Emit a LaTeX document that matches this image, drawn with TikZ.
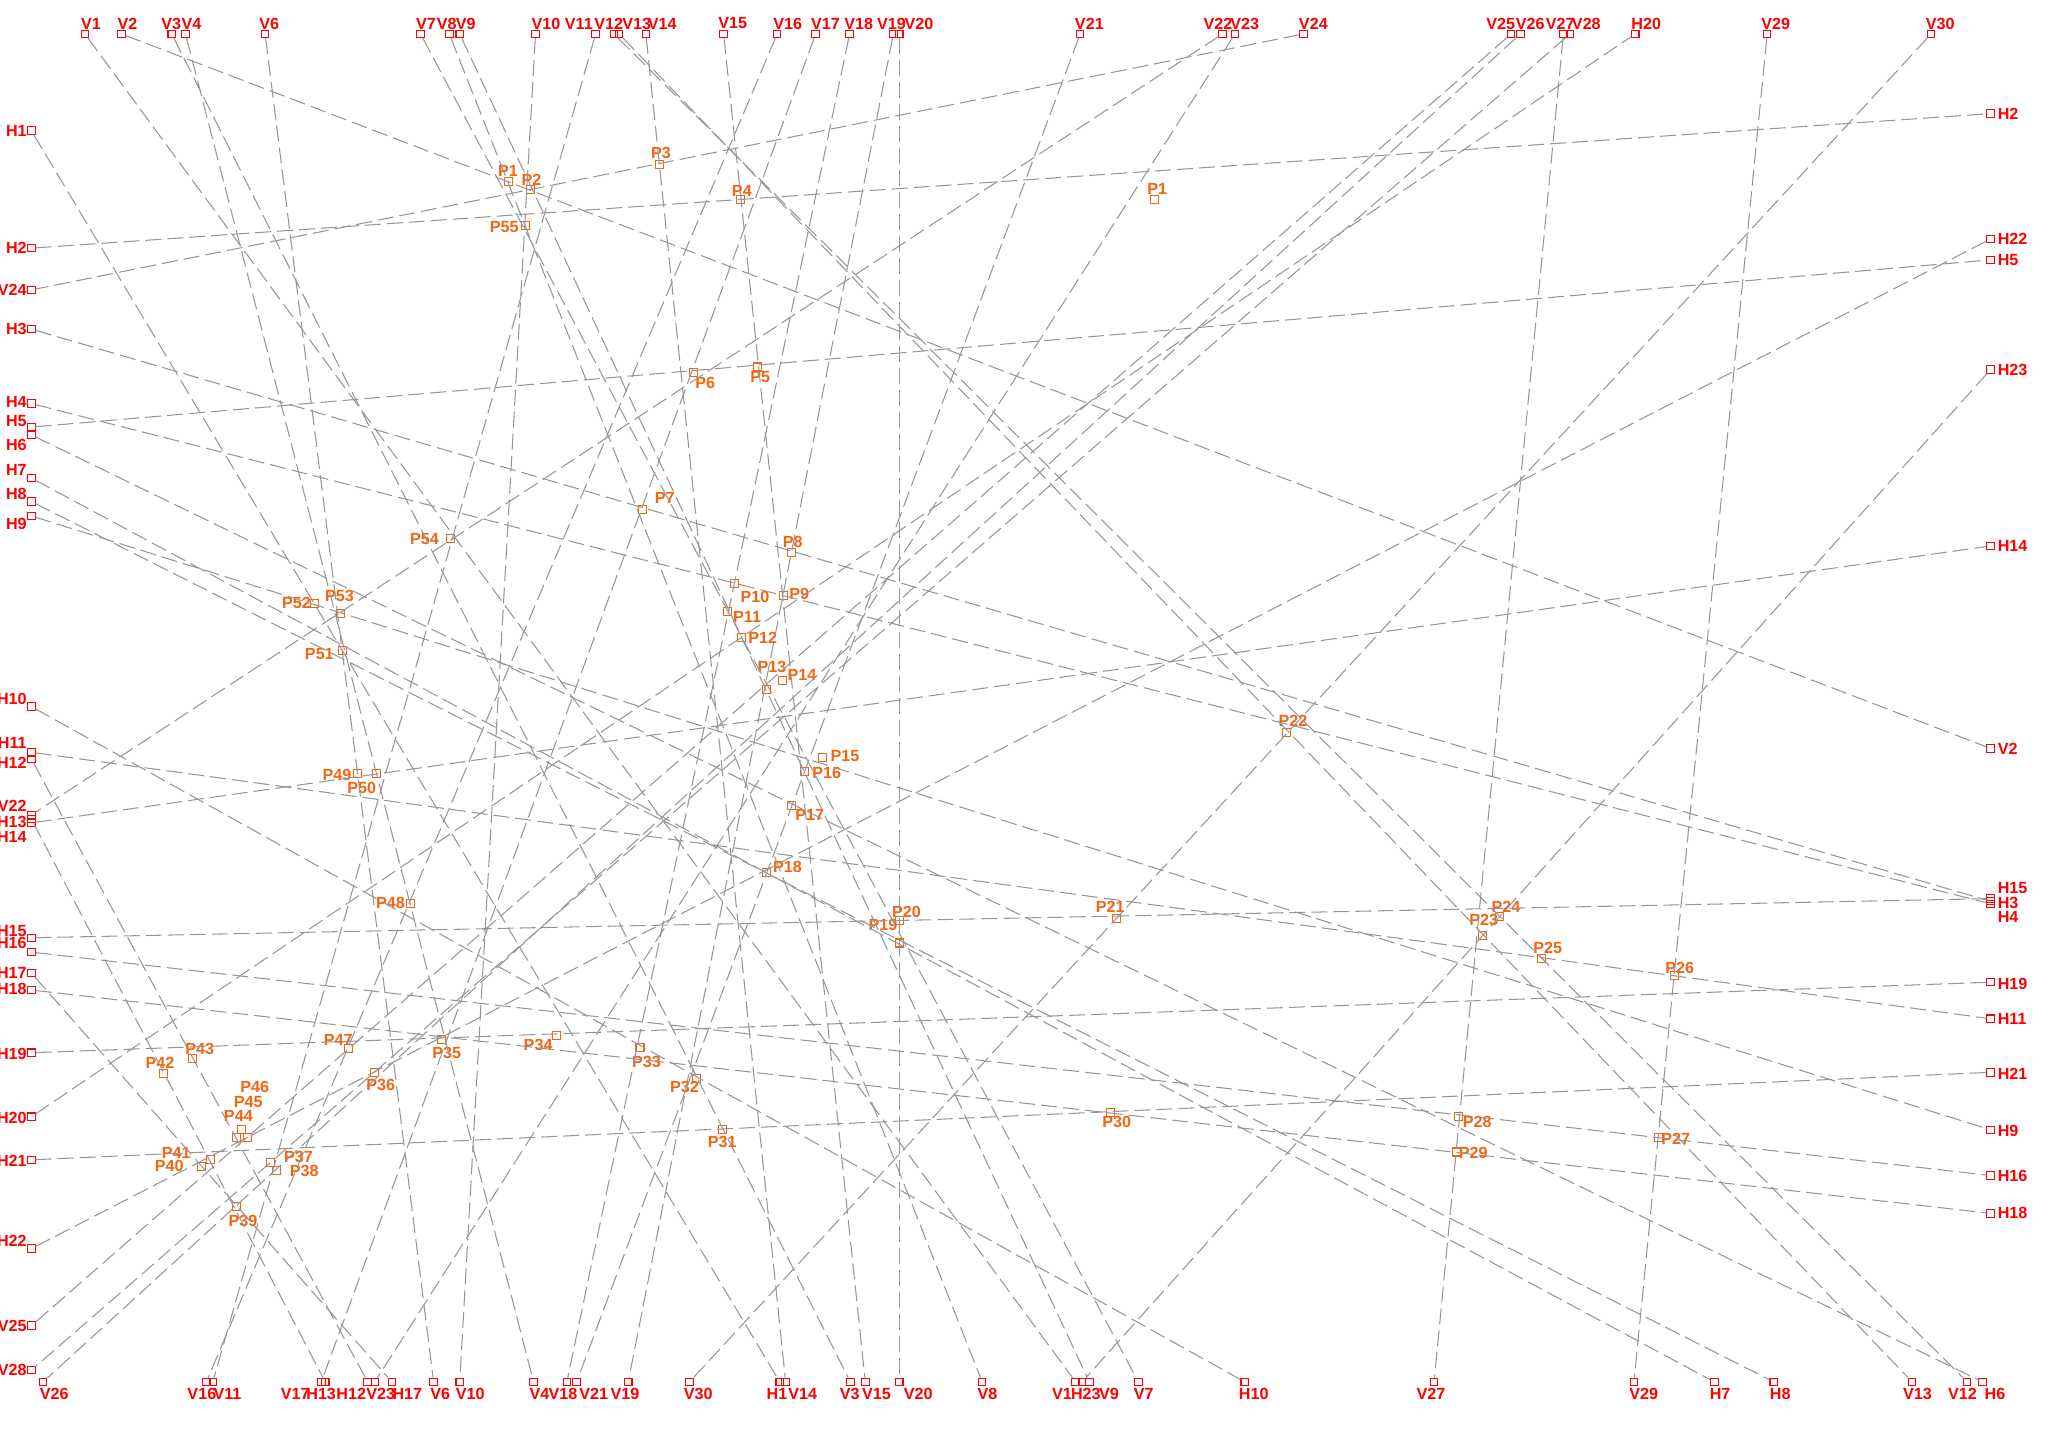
\documentclass[tikz,border=0pt]{standalone}
\usepackage{fontspec}
\setmainfont{Liberation Sans}
\usepackage{tikz}
\definecolor{lblred}{RGB}{255,0,0}
\definecolor{ptorange}{RGB}{245,100,15}
\definecolor{linegray}{RGB}{150,150,150}
\tikzset{
    endsq/.style={draw=lblred, line width=0.3pt, minimum size=0.075cm, inner sep=0pt},
    ptsq/.style={draw=ptorange, line width=0.3pt, minimum size=0.08cm, inner sep=0pt},
    endlab/.style={text=lblred, font=\fontsize{4.6}{5}\selectfont\bfseries, inner sep=0pt},
    ptlab/.style={text=ptorange, font=\fontsize{4.6}{5}\selectfont\bfseries, inner sep=0pt},
    link/.style={draw=linegray, line width=0.3pt, dash pattern=on 0.16cm off 0.06cm}
}
\begin{document}
\begin{tikzpicture}[x=0.013061cm, y=-0.013061cm]
\useasboundingbox (0,0) rectangle (1568,1100);

% top end points
\node[endsq] (tV1) at (65,26) {};
\node[endsq] (tV2) at (93,26) {};
\node[endsq] (tV3) at (131.5,26) {};
\node[endsq] (tV4) at (142,26) {};
\node[endsq] (tV6) at (203,26) {};
\node[endsq] (tV7) at (322,26) {};
\node[endsq] (tV8) at (344,26) {};
\node[endsq] (tV9) at (352,26) {};
\node[endsq] (tV10) at (410,26) {};
\node[endsq] (tV11) at (456,26) {};
\node[endsq] (tV12) at (470,26) {};
\node[endsq] (tV13) at (474,26) {};
\node[endsq] (tV14) at (494.5,26) {};
\node[endsq] (tV15) at (554,26) {};
\node[endsq] (tV16) at (595,26) {};
\node[endsq] (tV17) at (624.5,26) {};
\node[endsq] (tV18) at (650.5,26) {};
\node[endsq] (tV19) at (684,26) {};
\node[endsq] (tV20) at (688.5,26) {};
\node[endsq] (tV21) at (827,26) {};
\node[endsq] (tV22) at (936,26) {};
\node[endsq] (tV23) at (945.5,26) {};
\node[endsq] (tV24) at (998,26) {};
\node[endsq] (tV25) at (1157,26) {};
\node[endsq] (tV26) at (1164,26) {};
\node[endsq] (tV27) at (1197,26) {};
\node[endsq] (tV28) at (1202,26) {};
\node[endsq] (tH20) at (1252,26) {};
\node[endsq] (tV29) at (1353,26) {};
\node[endsq] (tV30) at (1478.5,26) {};

\node[endlab, anchor=west] (tV1l) at (61.5,18) {V1};
\node[endlab, anchor=west] (tV2l) at (89.5,18) {V2};
\node[endlab, anchor=west] (tV3l) at (123,18) {V3};
\node[endlab, anchor=west] (tV4l) at (138.5,18) {V4};
\node[endlab, anchor=west] (tV6l) at (198,18) {V6};
\node[endlab, anchor=west] (tV7l) at (318,18) {V7};
\node[endlab, anchor=west] (tV8l) at (334,18) {V8};
\node[endlab, anchor=west] (tV9l) at (348.5,18) {V9};
\node[endlab, anchor=west] (tV10l) at (406.5,18) {V10};
\node[endlab, anchor=west] (tV11l) at (432,18) {V11};
\node[endlab, anchor=west] (tV12l) at (454.5,18) {V12};
\node[endlab, anchor=west] (tV13l) at (476,18) {V13};
\node[endlab, anchor=west] (tV14l) at (495.5,18) {V14};
\node[endlab, anchor=west] (tV15l) at (549.5,18) {V15};
\node[endlab, anchor=west] (tV16l) at (591.5,18) {V16};
\node[endlab, anchor=west] (tV17l) at (620.5,18) {V17};
\node[endlab, anchor=west] (tV18l) at (646,18) {V18};
\node[endlab, anchor=west] (tV19l) at (671,18) {V19};
\node[endlab, anchor=west] (tV20l) at (692,18) {V20};
\node[endlab, anchor=west] (tV21l) at (822.5,18) {V21};
\node[endlab, anchor=west] (tV22l) at (921,18) {V22};
\node[endlab, anchor=west] (tV23l) at (941.5,18) {V23};
\node[endlab, anchor=west] (tV24l) at (994,18) {V24};
\node[endlab, anchor=west] (tV25l) at (1137.5,18) {V25};
\node[endlab, anchor=west] (tV26l) at (1160,18) {V26};
\node[endlab, anchor=west] (tV27l) at (1183,18) {V27};
\node[endlab, anchor=west] (tV28l) at (1203,18) {V28};
\node[endlab, anchor=west] (tH20l) at (1248.5,18) {H20};
\node[endlab, anchor=west] (tV29l) at (1348,18) {V29};
\node[endlab, anchor=west] (tV30l) at (1474,18) {V30};

% bottom end points
\node[endsq] (bV26) at (33,1058) {};
\node[endsq] (bV16) at (158,1058) {};
\node[endsq] (bV11) at (163,1058) {};
\node[endsq] (bV17) at (246,1058) {};
\node[endsq] (bH13) at (249,1058) {};
\node[endsq] (bH12) at (281.5,1058) {};
\node[endsq] (bV23) at (287,1058) {};
\node[endsq] (bH17) at (300,1058) {};
\node[endsq] (bV6) at (332,1058) {};
\node[endsq] (bV10) at (352,1058) {};
\node[endsq] (bV4) at (408.5,1058) {};
\node[endsq] (bV18) at (434,1058) {};
\node[endsq] (bV21) at (441.5,1058) {};
\node[endsq] (bV19) at (481,1058) {};
\node[endsq] (bV30) at (528,1058) {};
\node[endsq] (bH1) at (597,1058) {};
\node[endsq] (bV14) at (601.5,1058) {};
\node[endsq] (bV3) at (651,1058) {};
\node[endsq] (bV15) at (662.5,1058) {};
\node[endsq] (bV20) at (688.5,1058) {};
\node[endsq] (bV8) at (752,1058) {};
\node[endsq] (bV1) at (823.5,1058) {};
\node[endsq] (bH23) at (828.5,1058) {};
\node[endsq] (bV9) at (834,1058) {};
\node[endsq] (bV7) at (871.5,1058) {};
\node[endsq] (bH10) at (953,1058) {};
\node[endsq] (bV27) at (1098,1058) {};
\node[endsq] (bV29) at (1251,1058) {};
\node[endsq] (bH7) at (1312.5,1058) {};
\node[endsq] (bH8) at (1358,1058) {};
\node[endsq] (bV13) at (1464,1058) {};
\node[endsq] (bV12) at (1506,1058) {};
\node[endsq] (bH6) at (1518,1058) {};

\node[endlab, anchor=west] (bV26l) at (30,1067) {V26};
\node[endlab, anchor=west] (bV16l) at (143,1067) {V16};
\node[endlab, anchor=west] (bV11l) at (163,1067) {V11};
\node[endlab, anchor=west] (bV17l) at (214.5,1067) {V17};
\node[endlab, anchor=west] (bH13l) at (234,1067) {H13};
\node[endlab, anchor=west] (bH12l) at (257,1067) {H12};
\node[endlab, anchor=west] (bV23l) at (280,1067) {V23};
\node[endlab, anchor=west] (bH17l) at (300,1067) {H17};
\node[endlab, anchor=west] (bV6l) at (329,1067) {V6};
\node[endlab, anchor=west] (bV10l) at (348.5,1067) {V10};
\node[endlab, anchor=west] (bV4l) at (405,1067) {V4};
\node[endlab, anchor=west] (bV18l) at (419.5,1067) {V18};
\node[endlab, anchor=west] (bV21l) at (443,1067) {V21};
\node[endlab, anchor=west] (bV19l) at (467,1067) {V19};
\node[endlab, anchor=west] (bV30l) at (523,1067) {V30};
\node[endlab, anchor=west] (bH1l) at (586.5,1067) {H1};
\node[endlab, anchor=west] (bV14l) at (603,1067) {V14};
\node[endlab, anchor=west] (bV3l) at (642.5,1067) {V3};
\node[endlab, anchor=west] (bV15l) at (659.5,1067) {V15};
\node[endlab, anchor=west] (bV20l) at (691.5,1067) {V20};
\node[endlab, anchor=west] (bV8l) at (748,1067) {V8};
\node[endlab, anchor=west] (bV1l) at (805,1067) {V1};
\node[endlab, anchor=west] (bH23l) at (819.5,1067) {H23};
\node[endlab, anchor=west] (bV9l) at (841,1067) {V9};
\node[endlab, anchor=west] (bV7l) at (867.5,1067) {V7};
\node[endlab, anchor=west] (bH10l) at (948,1067) {H10};
\node[endlab, anchor=west] (bV27l) at (1084,1067) {V27};
\node[endlab, anchor=west] (bV29l) at (1247,1067) {V29};
\node[endlab, anchor=west] (bH7l) at (1308.5,1067) {H7};
\node[endlab, anchor=west] (bH8l) at (1354.5,1067) {H8};
\node[endlab, anchor=west] (bV13l) at (1456.5,1067) {V13};
\node[endlab, anchor=west] (bV12l) at (1491,1067) {V12};
\node[endlab, anchor=west] (bH6l) at (1519,1067) {H6};

% left end points
\node[endsq] (lH1) at (24,100) {};
\node[endsq] (lH2) at (24,190) {};
\node[endsq] (lV24) at (24,222) {};
\node[endsq] (lH3) at (24,252) {};
\node[endsq] (lH4) at (24,309) {};
\node[endsq] (lH5) at (24,327) {};
\node[endsq] (lH6) at (24,333) {};
\node[endsq] (lH7) at (24,366) {};
\node[endsq] (lH8) at (24,384) {};
\node[endsq] (lH9) at (24,395) {};
\node[endsq] (lH10) at (24,541) {};
\node[endsq] (lH11) at (24,576) {};
\node[endsq] (lH12) at (24,581) {};
\node[endsq] (lV22) at (24,624) {};
\node[endsq] (lH13) at (24,627) {};
\node[endsq] (lH14) at (24,630) {};
\node[endsq] (lH15) at (24,718) {};
\node[endsq] (lH16) at (24,729) {};
\node[endsq] (lH17) at (24,745) {};
\node[endsq] (lH18) at (24,758) {};
\node[endsq] (lH19) at (24,806) {};
\node[endsq] (lH20) at (24,855) {};
\node[endsq] (lH21) at (24,888) {};
\node[endsq] (lH22) at (24,956) {};
\node[endsq] (lV25) at (24,1015) {};
\node[endsq] (lV28) at (24,1049) {};

\node[endlab, anchor=east] (lH1l) at (21,100) {H1};
\node[endlab, anchor=east] (lH2l) at (21,190) {H2};
\node[endlab, anchor=east] (lV24l) at (21,222) {V24};
\node[endlab, anchor=east] (lH3l) at (21,252) {H3};
\node[endlab, anchor=east] (lH4l) at (21,308) {H4};
\node[endlab, anchor=east] (lH5l) at (21,322) {H5};
\node[endlab, anchor=east] (lH6l) at (21,341) {H6};
\node[endlab, anchor=east] (lH7l) at (21,360) {H7};
\node[endlab, anchor=east] (lH8l) at (21,378) {H8};
\node[endlab, anchor=east] (lH9l) at (21,401) {H9};
\node[endlab, anchor=east] (lH10l) at (21,535) {H10};
\node[endlab, anchor=east] (lH11l) at (21,569) {H11};
\node[endlab, anchor=east] (lH12l) at (21,584) {H12};
\node[endlab, anchor=east] (lV22l) at (21,617) {V22};
\node[endlab, anchor=east] (lH13l) at (21,629) {H13};
\node[endlab, anchor=east] (lH14l) at (21,641) {H14};
\node[endlab, anchor=east] (lH15l) at (21,713) {H15};
\node[endlab, anchor=east] (lH16l) at (21,722) {H16};
\node[endlab, anchor=east] (lH17l) at (21,745) {H17};
\node[endlab, anchor=east] (lH18l) at (21,757) {H18};
\node[endlab, anchor=east] (lH19l) at (21,807) {H19};
\node[endlab, anchor=east] (lH20l) at (21,856) {H20};
\node[endlab, anchor=east] (lH21l) at (21,889) {H21};
\node[endlab, anchor=east] (lH22l) at (21,950) {H22};
\node[endlab, anchor=east] (lV25l) at (21,1015) {V25};
\node[endlab, anchor=east] (lV28l) at (21,1049) {V28};

% right end points
\node[endsq] (rH2) at (1524,87) {};
\node[endsq] (rH22) at (1524,183) {};
\node[endsq] (rH5) at (1524,199) {};
\node[endsq] (rH23) at (1524,283) {};
\node[endsq] (rH14) at (1524,418) {};
\node[endsq] (rV2) at (1524,573) {};
\node[endsq] (rH15) at (1524,688) {};
\node[endsq] (rH3) at (1524,690) {};
\node[endsq] (rH4) at (1524,692) {};
\node[endsq] (rH19) at (1524,752) {};
\node[endsq] (rH11) at (1524,780) {};
\node[endsq] (rH21) at (1524,821) {};
\node[endsq] (rH9) at (1524,865) {};
\node[endsq] (rH16) at (1524,900) {};
\node[endsq] (rH18) at (1524,929) {};

\node[endlab, anchor=west] (rH2l) at (1529,87) {H2};
\node[endlab, anchor=west] (rH22l) at (1529,183) {H22};
\node[endlab, anchor=west] (rH5l) at (1529,199) {H5};
\node[endlab, anchor=west] (rH23l) at (1529,283) {H23};
\node[endlab, anchor=west] (rH14l) at (1529,418) {H14};
\node[endlab, anchor=west] (rV2l) at (1529,573) {V2};
\node[endlab, anchor=west] (rH15l) at (1529,680) {H15};
\node[endlab, anchor=west] (rH3l) at (1529,691) {H3};
\node[endlab, anchor=west] (rH4l) at (1529,702) {H4};
\node[endlab, anchor=west] (rH19l) at (1529,753) {H19};
\node[endlab, anchor=west] (rH11l) at (1529,780) {H11};
\node[endlab, anchor=west] (rH21l) at (1529,822) {H21};
\node[endlab, anchor=west] (rH9l) at (1529,866) {H9};
\node[endlab, anchor=west] (rH16l) at (1529,900) {H16};
\node[endlab, anchor=west] (rH18l) at (1529,929) {H18};

% crossing points
\node[ptsq] (P1) at (389,139) {};
\node[ptsq] (P1b) at (884,153) {};
\node[ptsq] (P2) at (406,145) {};
\node[ptsq] (P3) at (505,126) {};
\node[ptsq] (P4) at (567,153) {};
\node[ptsq] (P5) at (580,281) {};
\node[ptsq] (P6) at (531,285) {};
\node[ptsq] (P7) at (492,390) {};
\node[ptsq] (P8) at (606,423) {};
\node[ptsq] (P9) at (600,456) {};
\node[ptsq] (P10) at (562,447) {};
\node[ptsq] (P11) at (557,468) {};
\node[ptsq] (P12) at (568,488) {};
\node[ptsq] (P13) at (587,528) {};
\node[ptsq] (P14) at (599,521) {};
\node[ptsq] (P15) at (630,580) {};
\node[ptsq] (P16) at (616,591) {};
\node[ptsq] (P17) at (606,617) {};
\node[ptsq] (P18) at (587,668) {};
\node[ptsq] (P19) at (689,722) {};
\node[ptsq] (P20) at (689,705) {};
\node[ptsq] (P21) at (855,703) {};
\node[ptsq] (P22) at (985,561) {};
\node[ptsq] (P23) at (1135,716) {};
\node[ptsq] (P24) at (1148,702) {};
\node[ptsq] (P25) at (1180,734) {};
\node[ptsq] (P26) at (1282,747) {};
\node[ptsq] (P27) at (1270,871) {};
\node[ptsq] (P28) at (1117,855) {};
\node[ptsq] (P29) at (1115,882) {};
\node[ptsq] (P30) at (850,852) {};
\node[ptsq] (P31) at (553,865) {};
\node[ptsq] (P32) at (533,826) {};
\node[ptsq] (P33) at (490,802) {};
\node[ptsq] (P34) at (426,793) {};
\node[ptsq] (P35) at (338,796) {};
\node[ptsq] (P36) at (286.5,821) {};
\node[ptsq] (P37) at (207,890) {};
\node[ptsq] (P38) at (211.5,896) {};
\node[ptsq] (P39) at (181,924) {};
\node[ptsq] (P40) at (154,893) {};
\node[ptsq] (P41) at (161,888) {};
\node[ptsq] (P42) at (125,822) {};
\node[ptsq] (P43) at (147.5,810.5) {};
\node[ptsq] (P44) at (181,871) {};
\node[ptsq] (P45) at (185,865) {};
\node[ptsq] (P46) at (189.5,871) {};
\node[ptsq] (P47) at (267,802.5) {};
\node[ptsq] (P48) at (314,692) {};
\node[ptsq] (P49) at (274,592) {};
\node[ptsq] (P50) at (288,592) {};
\node[ptsq] (P51) at (262,498) {};
\node[ptsq] (P52) at (241,462) {};
\node[ptsq] (P53) at (261,469.5) {};
\node[ptsq] (P54) at (345,412) {};
\node[ptsq] (P55) at (402,173) {};

\node[ptlab] (P1l) at (389,131) {P1};
\node[ptlab] (P1bl) at (886,145) {P1};
\node[ptlab] (P2l) at (407,138) {P2};
\node[ptlab] (P3l) at (506,117) {P3};
\node[ptlab] (P4l) at (568,146) {P4};
\node[ptlab] (P5l) at (582,289) {P5};
\node[ptlab] (P6l) at (540,293) {P6};
\node[ptlab] (P7l) at (509,381) {P7};
\node[ptlab] (P8l) at (607,415) {P8};
\node[ptlab] (P9l) at (612,455) {P9};
\node[ptlab] (P10l) at (578,457) {P10};
\node[ptlab] (P11l) at (572,472) {P11};
\node[ptlab] (P12l) at (584,488) {P12};
\node[ptlab] (P13l) at (591,511) {P13};
\node[ptlab] (P14l) at (614,517) {P14};
\node[ptlab] (P15l) at (647,579) {P15};
\node[ptlab] (P16l) at (633,592) {P16};
\node[ptlab] (P17l) at (620,624) {P17};
\node[ptlab] (P18l) at (603,664) {P18};
\node[ptlab] (P19l) at (676,708) {P19};
\node[ptlab] (P20l) at (694,698) {P20};
\node[ptlab] (P21l) at (850,694) {P21};
\node[ptlab] (P22l) at (990,552) {P22};
\node[ptlab] (P23l) at (1136,704) {P23};
\node[ptlab] (P24l) at (1153,694) {P24};
\node[ptlab] (P25l) at (1185,726) {P25};
\node[ptlab] (P26l) at (1286,741) {P26};
\node[ptlab] (P27l) at (1283,872) {P27};
\node[ptlab] (P28l) at (1131,859) {P28};
\node[ptlab] (P29l) at (1128,883) {P29};
\node[ptlab] (P30l) at (855,859) {P30};
\node[ptlab] (P31l) at (553,874) {P31};
\node[ptlab] (P32l) at (524,832) {P32};
\node[ptlab] (P33l) at (495,813) {P33};
\node[ptlab] (P34l) at (412,800) {P34};
\node[ptlab] (P35l) at (342,806) {P35};
\node[ptlab] (P36l) at (291.5,831) {P36};
\node[ptlab] (P37l) at (228.5,885.5) {P37};
\node[ptlab] (P38l) at (233,896.5) {P38};
\node[ptlab] (P39l) at (186,935) {P39};
\node[ptlab] (P40l) at (129.5,893) {P40};
\node[ptlab] (P41l) at (135,883) {P41};
\node[ptlab] (P42l) at (122.5,814) {P42};
\node[ptlab] (P43l) at (153,803) {P43};
\node[ptlab] (P44l) at (182.5,854.5) {P44};
\node[ptlab] (P45l) at (190,844) {P45};
\node[ptlab] (P46l) at (195,832) {P46};
\node[ptlab] (P47l) at (259,796) {P47};
\node[ptlab] (P48l) at (299,691) {P48};
\node[ptlab] (P49l) at (258,593) {P49};
\node[ptlab] (P50l) at (277,603) {P50};
\node[ptlab] (P51l) at (244.5,501) {P51};
\node[ptlab] (P52l) at (227,462) {P52};
\node[ptlab] (P53l) at (260,456.5) {P53};
\node[ptlab] (P54l) at (325,413) {P54};
\node[ptlab] (P55l) at (386,174) {P55};

% vertical lines
\draw[link] (tV1) -- (bV1);
\draw[link] (tV2) -- (rV2);
\draw[link] (tV3) -- (bV3);
\draw[link] (tV4) -- (bV4);
\draw[link] (tV6) -- (bV6);
\draw[link] (tV7) -- (bV7);
\draw[link] (tV8) -- (bV8);
\draw[link] (tV9) -- (bV9);
\draw[link] (tV10) -- (bV10);
\draw[link] (tV11) -- (bV11);
\draw[link] (tV12) -- (bV12);
\draw[link] (tV13) -- (bV13);
\draw[link] (tV14) -- (bV14);
\draw[link] (tV15) -- (bV15);
\draw[link] (tV16) -- (bV16);
\draw[link] (tV17) -- (bV17);
\draw[link] (tV18) -- (bV18);
\draw[link] (tV19) -- (bV19);
\draw[link] (tV20) -- (bV20);
\draw[link] (tV21) -- (bV21);
\draw[link] (tV22) -- (lV22);
\draw[link] (tV23) -- (bV23);
\draw[link] (tV24) -- (lV24);
\draw[link] (tV25) -- (lV25);
\draw[link] (tV26) -- (bV26);
\draw[link] (tV27) -- (bV27);
\draw[link] (tV28) -- (lV28);
\draw[link] (tV29) -- (bV29);
\draw[link] (tV30) -- (bV30);

% horizontal lines
\draw[link] (lH1) -- (bH1);
\draw[link] (lH2) -- (rH2);
\draw[link] (lH3) -- (rH3);
\draw[link] (lH4) -- (rH4);
\draw[link] (lH5) -- (rH5);
\draw[link] (lH6) -- (bH6);
\draw[link] (lH7) -- (bH7);
\draw[link] (lH8) -- (bH8);
\draw[link] (lH9) -- (rH9);
\draw[link] (lH10) -- (bH10);
\draw[link] (lH11) -- (rH11);
\draw[link] (lH12) -- (bH12);
\draw[link] (lH13) -- (bH13);
\draw[link] (lH14) -- (rH14);
\draw[link] (lH15) -- (rH15);
\draw[link] (lH16) -- (rH16);
\draw[link] (lH17) -- (bH17);
\draw[link] (lH18) -- (rH18);
\draw[link] (lH19) -- (rH19);
\draw[link] (lH20) -- (tH20);
\draw[link] (lH21) -- (rH21);
\draw[link] (lH22) -- (rH22);
\draw[link] (rH23) -- (bH23);
\end{tikzpicture}
\end{document}
